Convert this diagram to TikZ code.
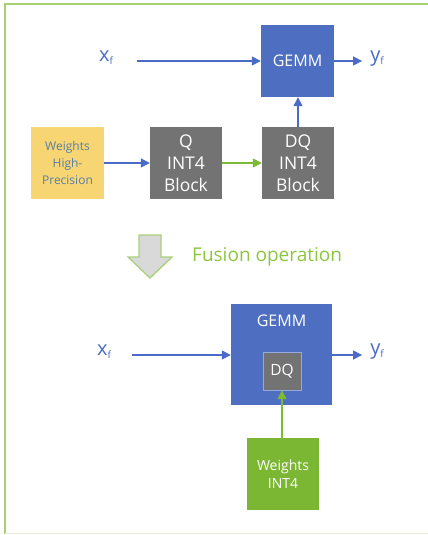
\documentclass[tikz,border=0pt]{standalone}
\usepackage{fontspec}
\setmainfont{Open Sans}
\usetikzlibrary{arrows.meta}
\definecolor{gblue}{HTML}{4E6FC1}
\definecolor{ablue}{HTML}{4A6CC6}
\definecolor{ggray}{HTML}{737373}
\definecolor{gyellow}{HTML}{F6D572}
\definecolor{ytext}{HTML}{5A7FA6}
\definecolor{ggreen}{HTML}{7BB733}
\definecolor{agreen}{HTML}{7DBB35}
\definecolor{ftext}{HTML}{8CC63F}
\definecolor{bgreen}{HTML}{A8CF70}
\definecolor{fgray}{HTML}{D9D9D9}
\definecolor{fgreen}{HTML}{A9D07A}
\tikzset{
  box/.style={draw=none, inner sep=0pt, align=center, text=white},
  barrow/.style={draw=ablue, line width=1.4pt, -{Triangle[length=9pt,width=9pt]}},
  garrow/.style={draw=agreen, line width=1.4pt, -{Triangle[length=9pt,width=9pt]}},
  lbl/.style={text=ablue, inner sep=0pt},
}
\newcommand{\xlab}[1]{{\fontsize{20}{20}\selectfont #1\raisebox{-3pt}{\fontsize{10}{10}\selectfont f}}}
\begin{document}
\begin{tikzpicture}[x=1pt,y=-1pt]
\useasboundingbox (0,0) rectangle (428,535);
\fill[white] (0,0) rectangle (428,535);
% frame
\draw[bgreen, line width=2pt] (428,4) -- (5,4) -- (5,534);
\draw[bgreen!30, line width=1pt] (5,533.5) -- (428,533.5);

% top section
\node[box, fill=gblue, minimum width=73pt, minimum height=72pt,
      font=\fontsize{16}{16}\selectfont] (gemm1) at (297.5,61) {GEMM};
\node[box, fill=gyellow, text=ytext, minimum width=73pt, minimum height=72pt,
      font=\fontsize{12}{17}\selectfont] (whp) at (67.5,163) {Weights\\High-\\Precision};
\node[box, fill=ggray, minimum width=72pt, minimum height=72pt,
      font=\fontsize{17.5}{22}\selectfont] (q) at (186,163) {Q\\INT4\\Block};
\node[box, fill=ggray, minimum width=72pt, minimum height=72pt,
      font=\fontsize{17.5}{22}\selectfont] (dq) at (298,163) {DQ\\INT4\\Block};

\node[lbl] (xf1) at (106,58) {\xlab{x}};
\node[lbl] (yf1) at (377,59) {\xlab{y}};
\coordinate (xin1) at (137,61);
\draw[barrow] (xin1) -- (gemm1.west |- xin1);
\draw[barrow] (gemm1.east |- xin1) -- ([xshift=-8pt]yf1.west |- xin1);
\draw[barrow] (whp.east) -- (q.west);
\draw[garrow] (q.east) -- (dq.west);
\draw[barrow] (dq.north) -- (gemm1.south -| dq.north);

% fusion arrow
\draw[fill=fgray, draw=fgreen, line width=1.3pt, line join=miter]
  (139,235) -- (161,235) -- (161,257) -- (172,257) -- (150,278) -- (128,257) -- (139,257) -- cycle;
\node[text=ftext, inner sep=0pt, anchor=west, font=\fontsize{19}{19}\selectfont] (fusion) at (192,257) {Fusion operation};

% bottom section
\node[box, fill=gblue, minimum width=101pt, minimum height=101pt] (gemm2) at (281.5,354.5) {};
\node[text=white, inner sep=0pt, font=\fontsize{16}{16}\selectfont] (gemmlbl) at (281.5,321) {GEMM};
\node[box, fill=ggray, draw=gblue!60!white, line width=0.4pt, minimum width=38pt, minimum height=38pt,
      font=\fontsize{15.5}{15.5}\selectfont] (dq2) at (282,371) {DQ};
\node[box, fill=ggreen, minimum width=72pt, minimum height=72pt,
      font=\fontsize{14}{18}\selectfont] (w4) at (283,474) {Weights\\INT4};

\node[lbl] (xf2) at (104,352) {\xlab{x}};
\node[lbl] (yf2) at (377,352) {\xlab{y}};
\coordinate (xin2) at (132,355);
\draw[barrow] (xin2) -- (gemm2.west |- xin2);
\draw[barrow] (gemm2.east |- xin2) -- ([xshift=-8pt]yf2.west |- xin2);
\draw[garrow] (w4.north -| dq2.south) -- (dq2.south);
\end{tikzpicture}
\end{document}
